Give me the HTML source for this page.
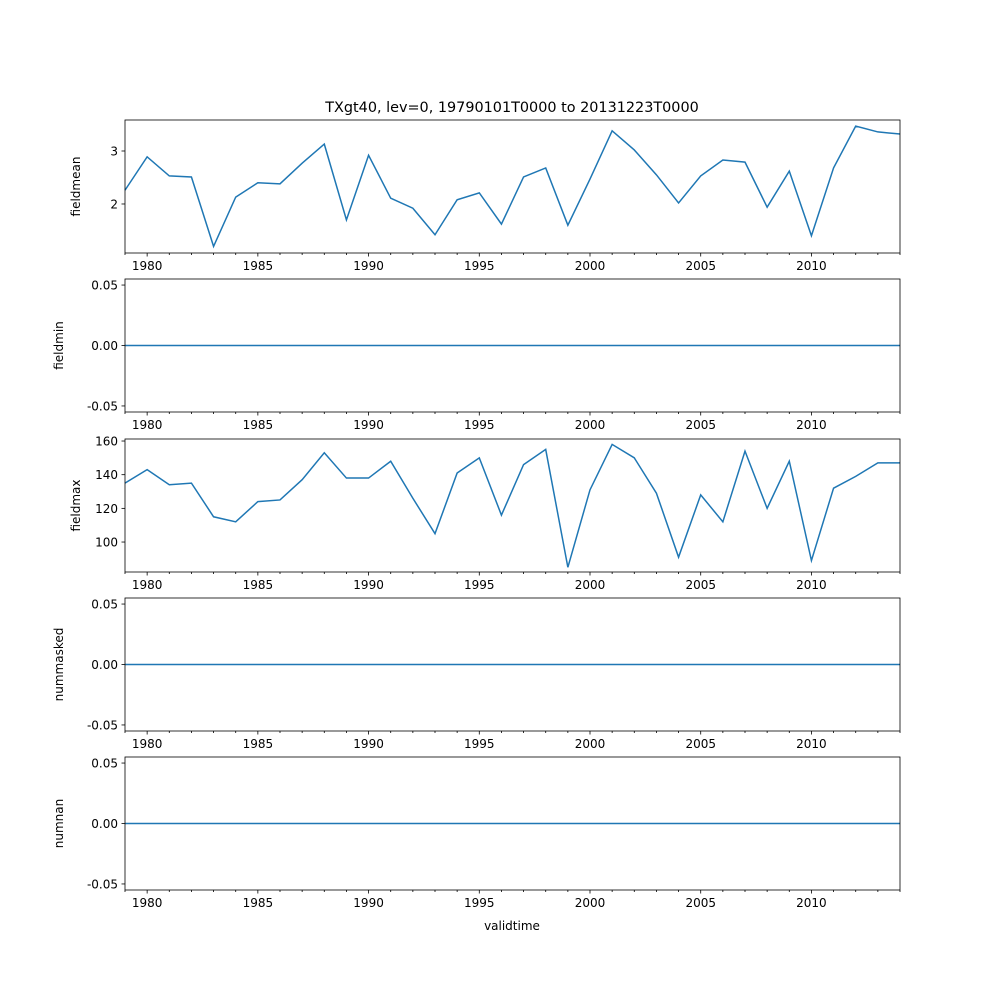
<!DOCTYPE html>
<html><head><meta charset="utf-8"><style>
body{margin:0;background:#fff;}
svg text{font-family:"DejaVu Sans","Liberation Sans",sans-serif;font-size:12px;fill:#000;}
</style></head><body>
<svg id="fig" width="1000" height="1000" xmlns="http://www.w3.org/2000/svg">
<rect width="1000" height="1000" fill="#fff"/>
<text x="512" y="112" text-anchor="middle" style="font-size:14.4px">TXgt40, lev=0, 19790101T0000 to 20131223T0000</text>
<text x="512" y="930" text-anchor="middle">validtime</text>
</svg>
<script>
const years = [1979,1980,1981,1982,1983,1984,1985,1986,1987,1988,1989,1990,1991,1992,1993,1994,1995,1996,1997,1998,1999,2000,2001,2002,2003,2004,2005,2006,2007,2008,2009,2010,2011,2012,2013,2014];
const fieldmean = [2.26,2.89,2.53,2.51,1.2,2.13,2.4,2.38,2.77,3.13,1.7,2.92,2.11,1.92,1.42,2.08,2.21,1.62,2.51,2.68,1.6,2.47,3.38,3.02,2.55,2.02,2.53,2.83,2.79,1.94,2.62,1.4,2.68,3.47,3.36,3.32];
const fieldmin = years.map(()=>0);
const fieldmax = [135,143,134,135,115,112,124,125,137,153,138,138,148,126,105,141,150,116,146,155,85,131,158,150,129,91,128,112,154,120,148,89,132,139,147,147];
const nummasked = years.map(()=>0);
const numnan = years.map(()=>0);
const xTicks = [1980,1985,1990,1995,2000,2005,2010];
const meanTicks = [2,3];
const zeroTicks = [-0.05,0,0.05];
const maxTicks = [100,120,140,160];

const NS="http://www.w3.org/2000/svg";
const svg=document.getElementById('fig');
function el(t,a,p){const e=document.createElementNS(NS,t);for(const k in a)e.setAttribute(k,a[k]);(p||svg).appendChild(e);return e;}
const X0=125,X1=900;
const xs=y=>X0+(y-1979)/(2014-1979)*(X1-X0);

const panels=[
 {name:'fieldmean',data:fieldmean,top:120,ymin:1.075,ymax:3.585,ticks:meanTicks,fmt:v=>String(v)},
 {name:'fieldmin',data:fieldmin,top:279,ymin:-0.055,ymax:0.055,ticks:zeroTicks,fmt:v=>v.toFixed(2)},
 {name:'fieldmax',data:fieldmax,top:439,ymin:82.2,ymax:161.2,ticks:maxTicks,fmt:v=>String(v)},
 {name:'nummasked',data:nummasked,top:598,ymin:-0.055,ymax:0.055,ticks:zeroTicks,fmt:v=>v.toFixed(2)},
 {name:'numnan',data:numnan,top:757,ymin:-0.055,ymax:0.055,ticks:zeroTicks,fmt:v=>v.toFixed(2)}
];
const H=133;
panels.forEach(p=>{
 const g=el('g',{});
 
 
 const ys=v=>p.top+H-(v-p.ymin)/(p.ymax-p.ymin)*H;
 const pts=years.map((y,i)=>xs(y).toFixed(2)+','+ys(p.data[i]).toFixed(2)).join(' ');
 const line=el('polyline',{points:pts,fill:'none',stroke:'#1f77b4','stroke-width':1.5},g);
 
 
 const frame=el('rect',{x:X0,y:p.top,width:X1-X0,height:H,fill:'none',stroke:'#000','stroke-width':0.8},g);
 
 
 years.forEach(y=>{
  const major=xTicks.includes(y);
  el('line',{x1:xs(y),x2:xs(y),y1:p.top+H,y2:p.top+H+(major?3.5:2),stroke:'#000','stroke-width':0.8},g);
 });
 xTicks.forEach(y=>{
  const t=el('text',{x:xs(y),y:p.top+H+17,'text-anchor':'middle'},g);t.textContent=y;
  
  
 });
 p.ticks.forEach(v=>{
  const yy=ys(v);
  el('line',{x1:X0-3.5,x2:X0,y1:yy,y2:yy,stroke:'#000','stroke-width':0.8},g);
  const t=el('text',{x:X0-7,y:yy+4.5,'text-anchor':'end'},g);t.textContent=p.fmt(v);
  
  
 });
 const lx=p.ticks[0]<0?63:80;
 const yl=el('text',{x:lx,y:p.top+H/2,'text-anchor':'middle',transform:`rotate(-90 ${lx} ${p.top+H/2})`},g);
 yl.textContent=p.name;
 
 
});
</script>
</body></html>
